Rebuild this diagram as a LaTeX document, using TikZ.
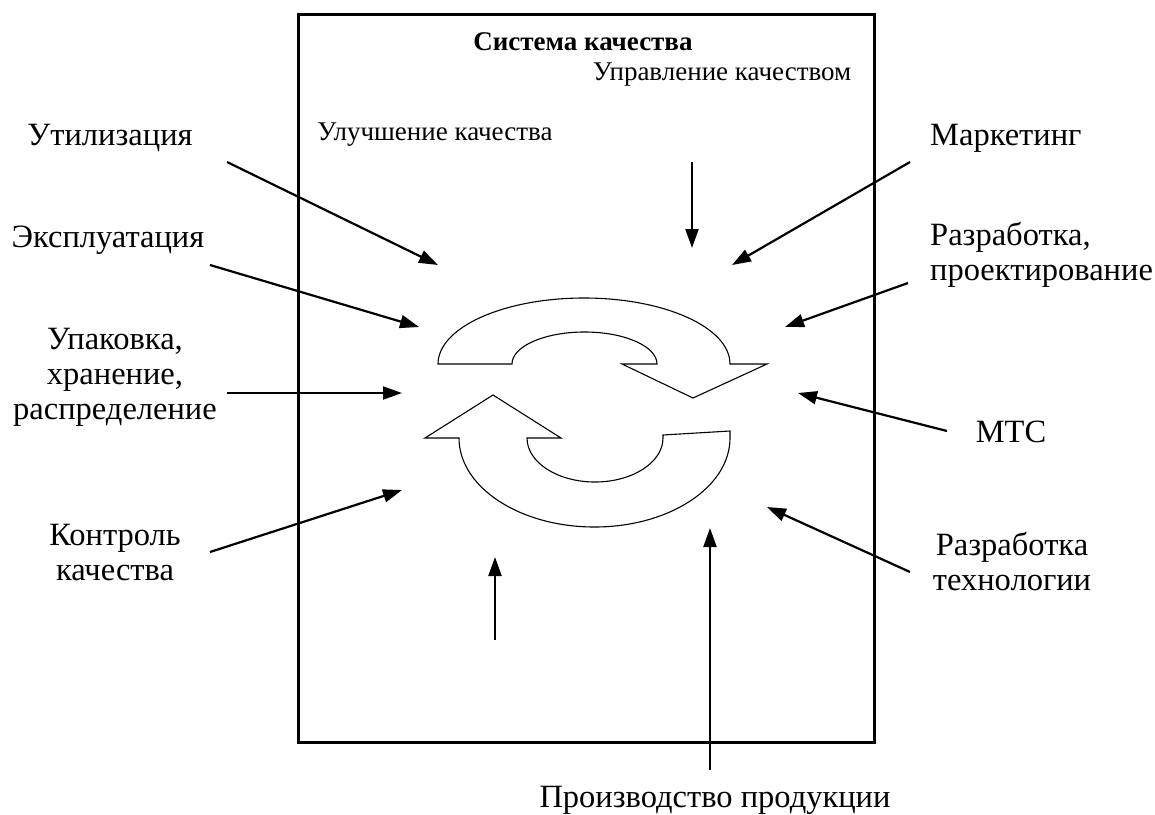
\documentclass[tikz,border=0pt]{standalone}
\usepackage{fontspec}
\setmainfont{Liberation Serif}
\usetikzlibrary{arrows.meta}

\begin{document}
\begin{tikzpicture}[x=1pt,y=-1pt,
  lbl/.style={font=\fontsize{32.5}{35}\selectfont,align=center,inner sep=0pt},
  inlbl/.style={font=\fontsize{27}{30}\selectfont,inner sep=0pt},
  arr/.style={-{Triangle[length=19pt,width=13pt]},line width=2.2pt},
  cyc/.style={draw,line width=1.1pt,line join=miter}]
\useasboundingbox (0,0) rectangle (1155,814);
% quality system frame
\node[draw,line width=2.5pt,minimum width=576pt,minimum height=728pt,anchor=north west,inner sep=0pt] (sys) at (297,13) {};
\node[inlbl,font=\fontsize{27}{30}\selectfont\bfseries] (title) at (583,42) {Система качества};
\node[inlbl] (upr) at (722,75) {Управление качеством};
\node[inlbl] (ulu) at (435,135) {Улучшение качества};

% outer labels
\node[lbl] (util) at (110,138) {Утилизация};
\node[lbl] (expl) at (108,240) {Эксплуатация};
\node[lbl] (upak) at (115,377) {Упаковка,\\хранение,\\распределение};
\node[lbl] (kontr) at (115,553) {Контроль\\качества};
\node[lbl,anchor=west] (mark) at (930,138) {Маркетинг};
\node[lbl,anchor=west,align=left] (razr) at (930,255) {Разработка,\\проектирование};
\node[lbl] (mts) at (1011,432) {МТС};
\node[lbl] (tech) at (1012,562) {Разработка\\технологии};
\node[lbl] (proizv) at (715,800) {Производство продукции};

% cycle arrows
\draw[cyc] (438,364) -- (512,364)
  arc[start angle=180,end angle=0,x radius=72.5pt,y radius=32pt]
  -- (622,364) -- (693,398) -- (767,364) -- (730,364)
  arc[start angle=0,end angle=180,x radius=146pt,y radius=66pt] -- cycle;
\draw[cyc] (527,438) -- (561,438) -- (493,395) -- (425,438) -- (459,438)
  arc[start angle=180,end angle=360,x radius=135.5pt,y radius=89pt]
  -- (730,431) -- (663,435) -- (663,438)
  arc[start angle=0,end angle=-180,x radius=68pt,y radius=44pt] -- cycle;

% arrow ends
\coordinate (util-s) at (227,162);  \coordinate (util-e) at (438,265);
\coordinate (expl-s) at (210,265);  \coordinate (expl-e) at (419,327);
\coordinate (upak-s) at (227,393);  \coordinate (upak-e) at (402,393);
\coordinate (kontr-s) at (210,552); \coordinate (kontr-e) at (402,490);
\coordinate (ulu-s) at (495,640);   \coordinate (ulu-e) at (495,557);
\coordinate (proizv-s) at (710,770);\coordinate (proizv-e) at (710,528);
\coordinate (tech-s) at (910,572);  \coordinate (tech-e) at (767,507);
\coordinate (mts-s) at (947,431);   \coordinate (mts-e) at (798,393);
\coordinate (razr-s) at (908,283);  \coordinate (razr-e) at (785,327);
\coordinate (mark-s) at (910,162);  \coordinate (mark-e) at (732,265);
\coordinate (upr-s) at (692,162);   \coordinate (upr-e) at (692,248);

\draw[arr] (util-s) -- (util-e);
\draw[arr] (expl-s) -- (expl-e);
\draw[arr] (upak-s) -- (upak-e);
\draw[arr] (kontr-s) -- (kontr-e);
\draw[arr] (ulu-s) -- (ulu-e);
\draw[arr] (proizv-s) -- (proizv-e);
\draw[arr] (tech-s) -- (tech-e);
\draw[arr] (mts-s) -- (mts-e);
\draw[arr] (razr-s) -- (razr-e);
\draw[arr] (mark-s) -- (mark-e);
\draw[arr] (upr-s) -- (upr-e);
\end{tikzpicture}
\end{document}
